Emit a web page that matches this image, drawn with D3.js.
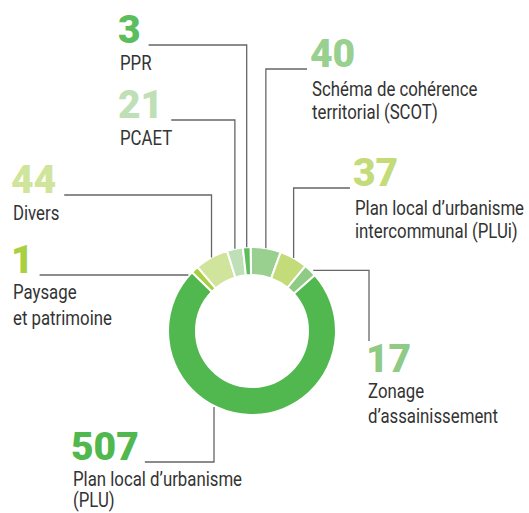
<!DOCTYPE html>
<html lang="fr">
<head>
<meta charset="UTF-8">
<title>Donut</title>
<script src="https://d3js.org/d3.v7.min.js"></script>
<style>
  body { margin: 0; background: #fff; }
  .num { font-family: Roboto, "Noto Sans", sans-serif; font-weight: 900; font-size: 39px; }
  .lbl { font-family: Roboto, "Noto Sans", sans-serif; font-size: 21px; fill: #333; }
</style>
</head>
<body>
<svg width="529" height="513"></svg>
<script>
// slices clockwise, starting just right of the top
const codes = ["SCOT", "PLUi", "Zonage", "PLU", "Paysage", "Divers", "PCAET", "PPR"];
const values = [40, 37, 17, 507, 1, 44, 21, 3];
const labels = [
  ["Schéma de cohérence", "territorial (SCOT)"],
  ["Plan local d\u2019urbanisme", "intercommunal (PLUi)"],
  ["Zonage", "d\u2019assainissement"],
  ["Plan local d\u2019urbanisme", "(PLU)"],
  ["Paysage", "et patrimoine"],
  ["Divers"],
  ["PCAET"],
  ["PPR"]
];
const colors = ["#99cf8f", "#c3dc79", "#8fcb85", "#50b84e", "#a9d043", "#d0e49b", "#bfe0b7", "#5cbd5c"];

const svg = d3.select("svg");
const cx = 252, cy = 331, rOut = 84, rIn = 56;
const minShare = 10; // tiny slices drawn a bit wider, as in the original
const squeeze = 0.8; // condensed look for the labels

const pie = d3.pie().sort(null)
  .value(d => Math.max(d, minShare))
  .startAngle(-1 * Math.PI / 180)
  .endAngle(2 * Math.PI - 1 * Math.PI / 180);
const arcs = pie(values);
const arc = d3.arc().innerRadius(rIn).outerRadius(rOut);

const g = svg.append("g").attr("transform", `translate(${cx},${cy})`);
g.selectAll("path")
  .data(arcs)
  .join("path")
  .attr("d", arc)
  .attr("fill", (d, i) => colors[i])
  .attr("stroke", "#fff")
  .attr("stroke-width", 2);

// where each label sits (x, baseline of the number, label line baselines)
const layout = {
  SCOT:    { x: 310, y: 67,  lines: [96, 119], side: "right", type: "down" },
  PLUi:    { x: 353, y: 186, lines: [215, 238], side: "right", type: "down" },
  Zonage:  { x: 366, y: 372, lines: [398, 423], type: "across" },
  PLU:     { x: 71,  y: 460, lines: [486, 507], type: "up", elbowX: 214 },
  Paysage: { x: 11,  y: 273, lines: [299, 325], type: "flat" },
  Divers:  { x: 11,  y: 193, lines: [220], type: "down" },
  PCAET:   { x: 118, y: 118, lines: [145], type: "down" },
  PPR:     { x: 118, y: 43,  lines: [70], type: "down" }
};

const outerPoint = a => [cx + rOut * Math.sin(a), cy - rOut * Math.cos(a)];

arcs.forEach((d, i) => {
  const L = layout[codes[i]];
  const num = svg.append("text")
    .attr("class", "num")
    .attr("x", L.x)
    .attr("y", L.y)
    .attr("fill", colors[i])
    .text(values[i]);
  const w = num.node().getComputedTextLength();

  L.lines.forEach((ly, k) => {
    svg.append("text").attr("class", "lbl")
      .attr("transform", `translate(${L.x + 2},${ly}) scale(${squeeze},1)`)
      .text(labels[i][k]);
  });

  const mid = (d.startAngle + d.endAngle) / 2;
  const [ax, ay] = outerPoint(mid);
  const ly = L.y + 2;
  let p;
  if (L.type === "down") {
    const sx = L.side === "right" ? L.x - 3 : L.x + w + 8;
    p = `M${sx},${ly}H${ax}V${ay}`;
  } else if (L.type === "flat") {
    const ex = cx - Math.sqrt(rOut * rOut - (ly - cy) * (ly - cy));
    p = `M${L.x + w + 6},${ly}H${ex - 1}`;
  } else if (L.type === "across") {
    p = `M${ax + 3},${ay}H${L.x + 3}V${L.y - 31}`;
  } else {
    const ey = cy + Math.sqrt(rOut * rOut - (L.elbowX - cx) * (L.elbowX - cx));
    p = `M${L.x + w + 6},${ly}H${L.elbowX}V${ey + 1}`;
  }
  svg.append("path")
    .attr("d", p)
    .attr("fill", "none")
    .attr("stroke", "#666")
    .attr("stroke-width", 1.3);
});
</script>
</body>
</html>
